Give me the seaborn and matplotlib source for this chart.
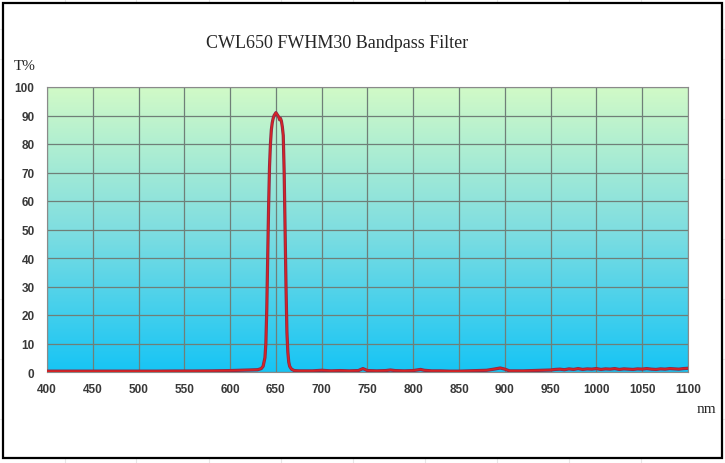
import numpy as np
import pandas as pd
import matplotlib
matplotlib.use("Agg")
import matplotlib.pyplot as plt
import matplotlib.patheffects as pe
from matplotlib.colors import LinearSegmentedColormap
from matplotlib.lines import Line2D
from matplotlib.patches import Rectangle
import seaborn as sns

# ---- data ----
wavelength = [400, 420, 440, 460, 480, 500, 520, 540, 560, 580, 600, 610, 620, 630,
              634, 636, 638, 639, 640, 641, 642, 643, 644, 645, 646, 647, 648, 649,
              650, 651, 652, 653, 654, 655, 656, 657, 658, 659, 660, 661, 662, 663,
              664, 665, 667, 670, 675, 680, 690, 700, 710, 720, 730, 740, 745, 750,
              760, 770, 775, 780, 790, 800, 808, 812, 820, 830, 840, 850, 860, 870,
              880, 888, 895, 900, 905, 910, 920, 930, 940, 950, 955, 960, 965, 970,
              975, 980, 985, 990, 995, 1000, 1005, 1010, 1015, 1020, 1025, 1030,
              1035, 1040, 1045, 1050, 1055, 1060, 1065, 1070, 1075, 1080, 1085,
              1090, 1095, 1100]
transmission = [0.3, 0.3, 0.3, 0.3, 0.3, 0.3, 0.3, 0.35, 0.35, 0.4, 0.5, 0.6, 0.7, 0.8,
                1.2, 2.0, 5.0, 10.0, 22.0, 40.0, 58.0, 72.0, 80.0, 85.0, 87.5, 89.0, 90.0, 90.5,
                91.0, 90.5, 90.0, 89.5, 88.5, 89.0, 88.0, 86.0, 83.0, 70.0, 50.0, 30.0, 14.0, 7.0,
                3.5, 2.0, 1.0, 0.5, 0.4, 0.4, 0.4, 0.6, 0.4, 0.5, 0.4, 0.5, 1.2, 0.5,
                0.4, 0.5, 0.7, 0.5, 0.4, 0.5, 0.9, 0.6, 0.4, 0.4, 0.3, 0.3, 0.4, 0.5,
                0.6, 1.0, 1.4, 1.0, 0.4, 0.4, 0.4, 0.5, 0.6, 0.7, 0.9, 1.0, 0.8, 1.1,
                0.9, 1.2, 0.9, 1.1, 1.0, 1.2, 0.9, 1.1, 1.0, 1.2, 0.9, 1.1,
                1.0, 0.9, 1.1, 1.0, 1.2, 1.0, 0.9, 1.1, 1.0, 1.2, 1.1,
                1.0, 1.2, 1.3]

x_ticks = [400, 450, 500, 550, 600, 650, 700, 750, 800, 850, 900, 950, 1000, 1050, 1100]
y_ticks = [0, 10, 20, 30, 40, 50, 60, 70, 80, 90, 100]
title_text = "CWL650 FWHM30 Bandpass Filter"

df = pd.DataFrame({"nm": wavelength, "T": transmission})

sns.set_style("white")
plt.rcParams["font.family"] = ["Liberation Sans", "DejaVu Sans"]

fig = plt.figure(figsize=(7.25, 4.64), dpi=100)
fig.patch.set_facecolor("white")

# faint spreadsheet cell lines behind the picture
for xp in [65, 136, 209, 281, 353, 425, 497, 569, 641]:
    fig.add_artist(Line2D([xp / 725, xp / 725], [0, 1], color="#e6e6e6", lw=0.8, zorder=-5))
for yp in [30, 60, 120, 180, 240, 300, 360, 420]:
    fig.add_artist(Line2D([0, 1], [1 - yp / 464, 1 - yp / 464], color="#eeeeee", lw=0.8, zorder=-5))
fig.add_artist(Rectangle((3 / 725, 1 - 459 / 464), 719 / 725, 455 / 464,
                         transform=fig.transFigure, facecolor="white",
                         edgecolor="black", lw=1.6, zorder=-4))

ax = fig.add_axes([47 / 725, 1 - 373 / 464, 641 / 725, 285 / 464])
ax.set_facecolor("none")

cmap = LinearSegmentedColormap.from_list(
    "bg", [(0.0, (0.09, 0.77, 0.96)), (0.5, (0.50, 0.87, 0.88)), (1.0, (0.82, 0.98, 0.78))])
grad = np.linspace(0, 1, 256).reshape(-1, 1)
ax.imshow(grad, extent=[400, 1100, 0, 100], origin="lower", aspect="auto",
          cmap=cmap, zorder=0, interpolation="bicubic")

sns.lineplot(data=df, x="nm", y="T", ax=ax, color="#d82424", lw=1.2, zorder=3,
             path_effects=[pe.Stroke(linewidth=2.3, foreground="#8a2848"), pe.Normal()])

ax.set_xlim(400, 1100)
ax.set_ylim(0, 100)
ax.set_xticks(x_ticks)
ax.set_yticks(y_ticks)
ax.set_axisbelow("line")
ax.grid(True, color="#6f7f78", lw=0.9)
ax.set_xlabel("")
ax.set_ylabel("")
for s in ax.spines.values():
    s.set_color("#8a8a8a")
    s.set_linewidth(0.8)
ax.tick_params(axis="both", length=0, labelsize=8.5, labelcolor="#383838")
ax.tick_params(axis="x", pad=8)
ax.tick_params(axis="y", pad=9)
for lbl in ax.get_xticklabels() + ax.get_yticklabels():
    lbl.set_fontweight("bold")

fig.text(337 / 725, 1 - 44 / 464, title_text, ha="center", va="center",
         fontsize=13, family="Liberation Serif")
fig.text(14 / 725, 1 - 67 / 464, "T%", ha="left", va="center",
         fontsize=11, family="Liberation Serif")
fig.text(697 / 725, 1 - 410 / 464, "nm", ha="left", va="center",
         fontsize=11, family="Liberation Serif")

fig.savefig("out.png", dpi=100)
